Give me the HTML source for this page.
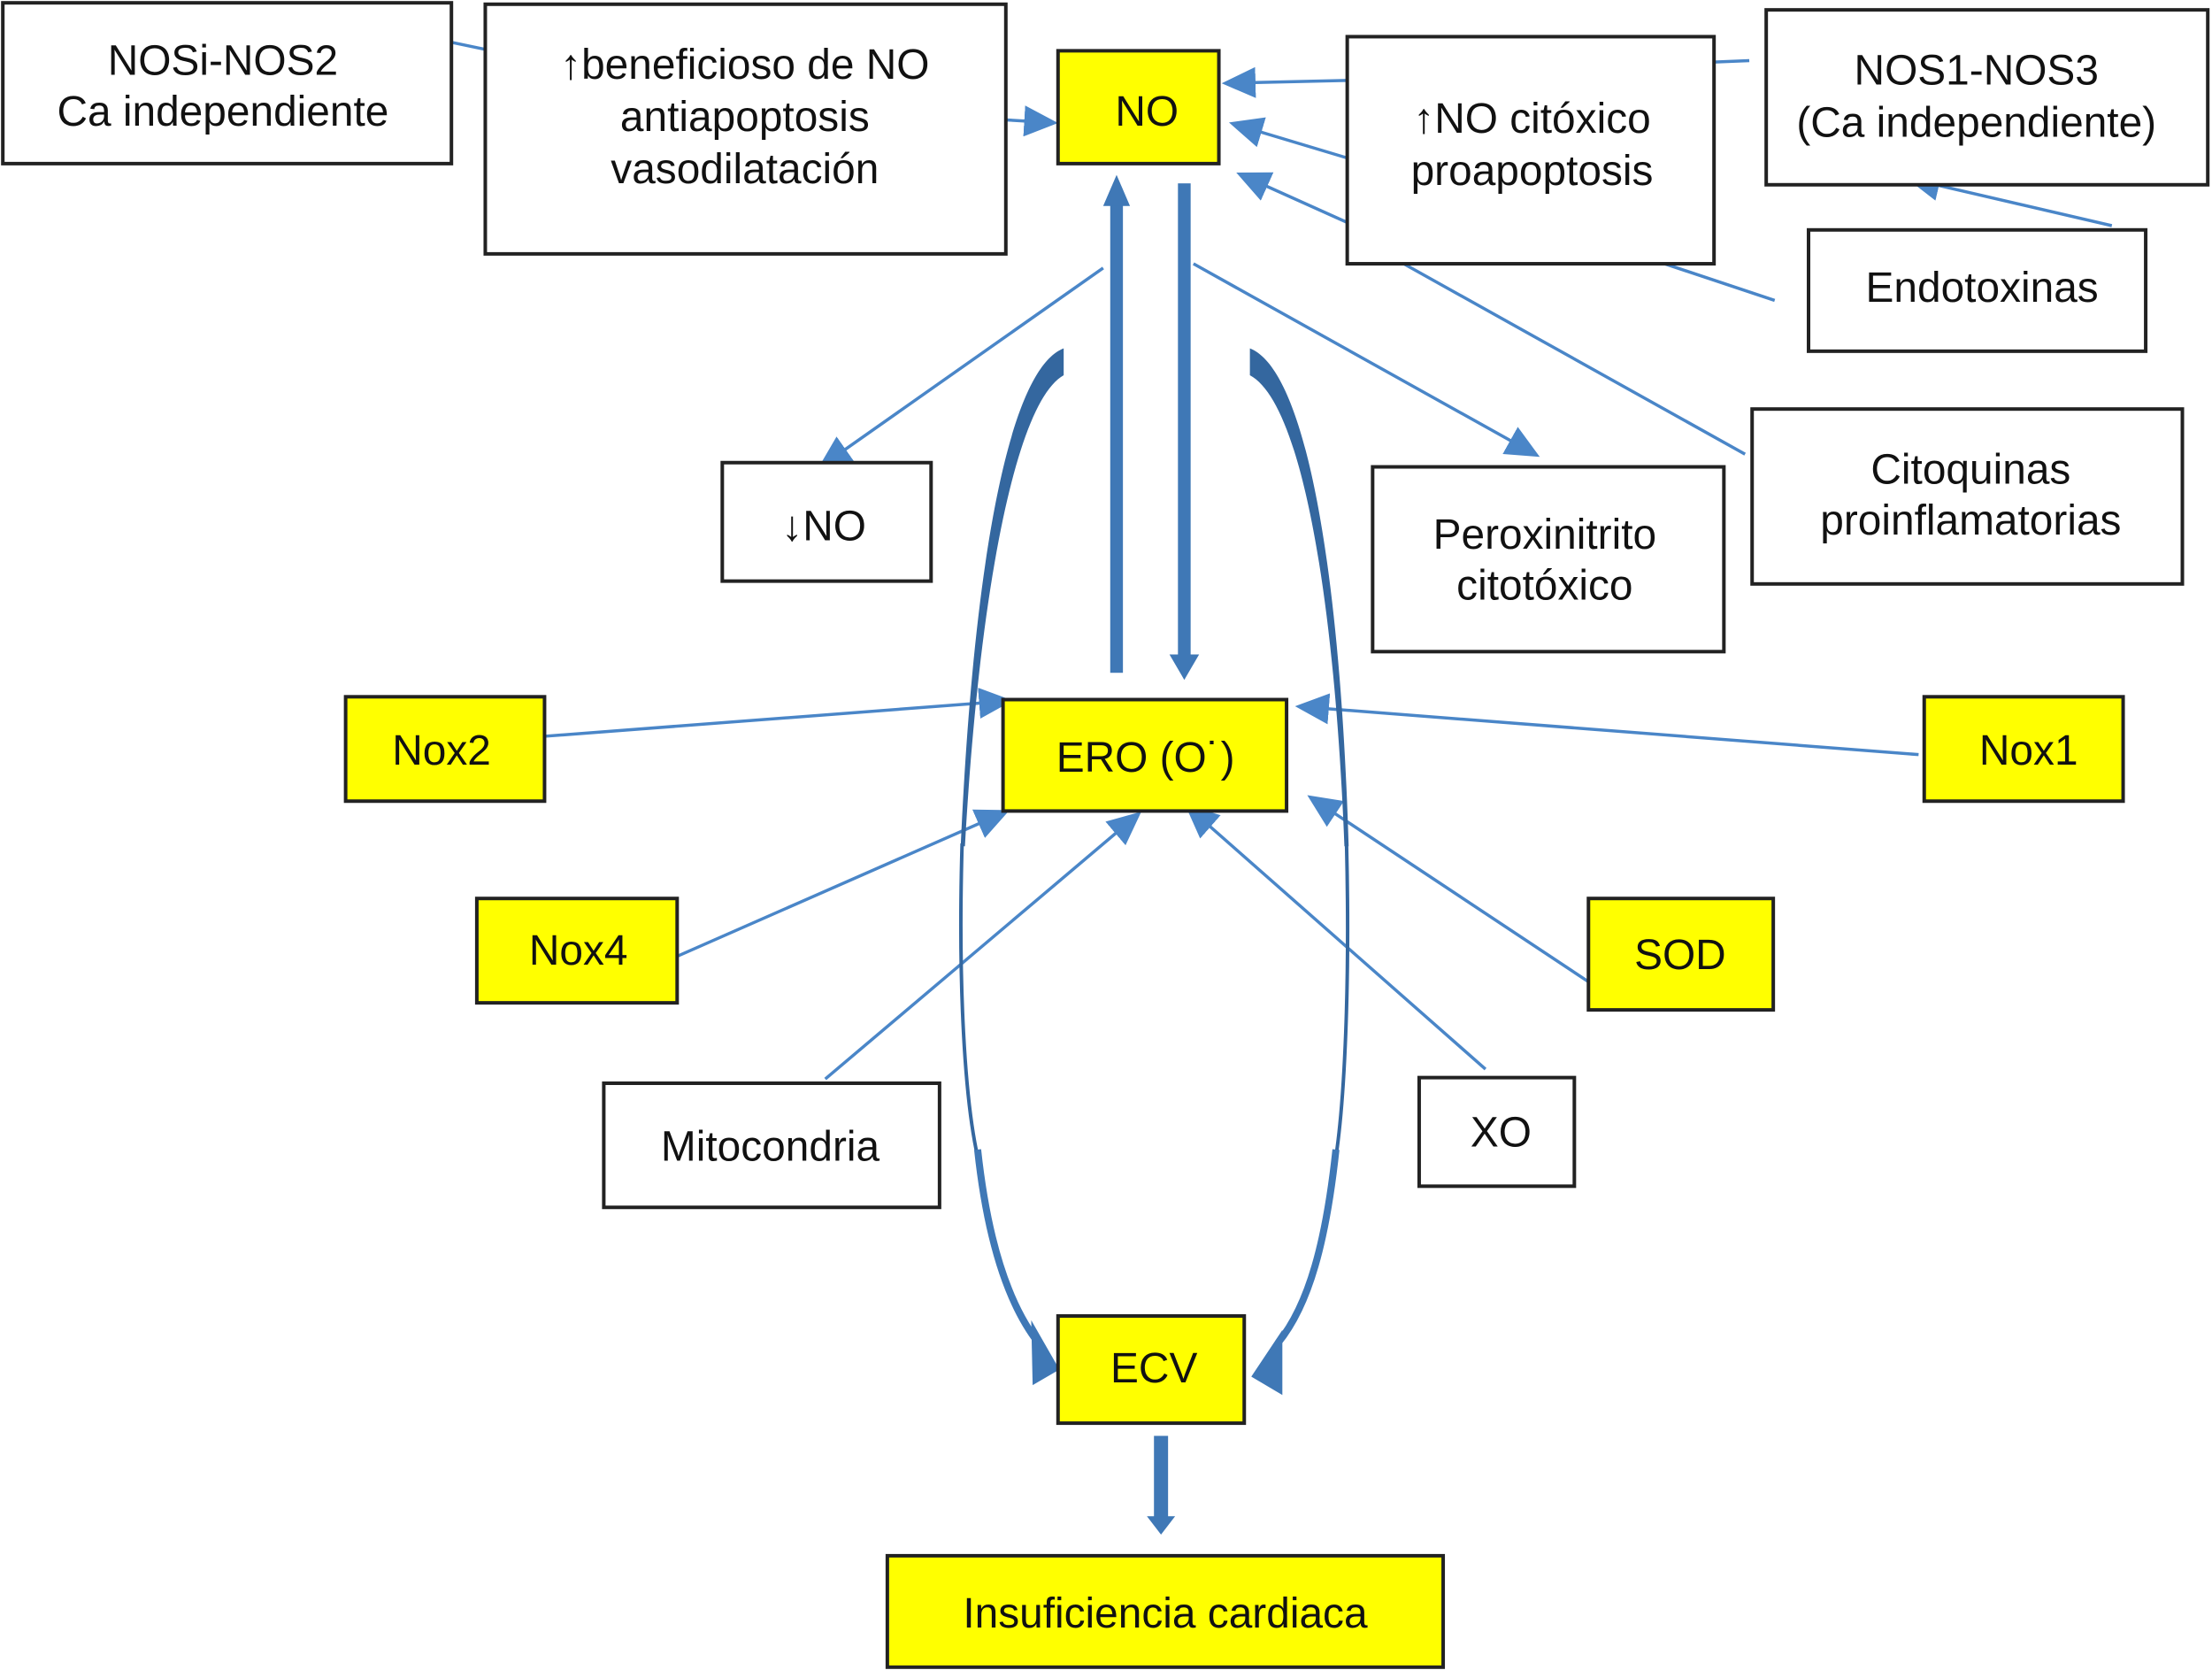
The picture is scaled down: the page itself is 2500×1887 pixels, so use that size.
<!DOCTYPE html>
<html><head><meta charset="utf-8"><style>
html,body{margin:0;padding:0;background:#fff}
svg{display:block}
text{font-family:"Liberation Sans",sans-serif;font-size:30px;fill:#111;text-anchor:middle}
.b{fill:#fff;stroke:#222;stroke-width:2.5}
.y{fill:#ffff00;stroke:#222;stroke-width:2.5}
.l{stroke:#4a86c8;stroke-width:2.2;fill:none}
</style></head><body>
<svg width="2500" height="1887" viewBox="0 0 1568 1184" preserveAspectRatio="none">
<defs>
<marker id="A" markerWidth="24" markerHeight="22" refX="20" refY="11" orient="auto" markerUnits="userSpaceOnUse" viewBox="0 0 24 22">
<path d="M0,0 L24,11 L0,22 z" fill="#4a86c8"/></marker>
</defs>
<g class="l">
<line x1="320" y1="30" x2="344" y2="35"/>
<line x1="713" y1="85" x2="746" y2="87" marker-end="url(#A)"/>
<line x1="1215" y1="44" x2="1240" y2="43"/>
<line x1="955" y1="57" x2="870" y2="59" marker-end="url(#A)"/>
<line x1="955" y1="112" x2="875" y2="88" marker-end="url(#A)"/>
<line x1="1258" y1="213" x2="1180" y2="187"/>
<line x1="1237" y1="322" x2="995" y2="187"/>
<line x1="960" y1="160" x2="880" y2="124" marker-end="url(#A)"/>
<line x1="1497" y1="160" x2="1355" y2="127" marker-end="url(#A)"/>
<line x1="782" y1="190" x2="583" y2="330" marker-end="url(#A)"/>
<line x1="846" y1="187" x2="1088" y2="322" marker-end="url(#A)"/>
<line x1="386" y1="522" x2="714" y2="497" marker-end="url(#A)"/>
<line x1="1360" y1="535" x2="922" y2="501" marker-end="url(#A)"/>
<line x1="480" y1="678" x2="712" y2="576" marker-end="url(#A)"/>
<line x1="585" y1="765" x2="806" y2="578" marker-end="url(#A)"/>
<line x1="1053" y1="758" x2="843" y2="573" marker-end="url(#A)"/>
<line x1="1135" y1="702" x2="930" y2="566" marker-end="url(#A)"/>
</g>
<rect x="787" y="145" width="9" height="332" fill="#3f78b6"/>
<path d="M782,146 L791.5,124 L801,146 z" fill="#3f78b6"/>
<rect x="835" y="130" width="9" height="335" fill="#3f78b6"/>
<path d="M829,464 L839.5,482 L850,464 z" fill="#3f78b6"/>
<!-- left curved -->
<path d="M754,247 C715,262 690,400 681,600 L684,600 C694,420 720,285 754,266 Z" fill="#34679f"/>
<path d="M682,598 C679,700 684,780 693,820" stroke="#34679f" stroke-width="2.5" fill="none"/>
<path d="M693,815 C700,880 715,925 736,952" stroke="#3f78b6" stroke-width="5" fill="none"/>
<path d="M731,936 L751,971 L732,982 z" fill="#3f78b6"/>
<!-- right curved -->
<path d="M886,247 C925,262 950,400 956,600 L953,600 C946,420 922,285 886,266 Z" fill="#34679f"/>
<path d="M954.5,598 C957,700 953,780 947,820" stroke="#34679f" stroke-width="2.5" fill="none"/>
<path d="M947,815 C940,880 928,925 906,952" stroke="#3f78b6" stroke-width="5" fill="none"/>
<path d="M909,943 L887,976 L909,989 z" fill="#3f78b6"/>
<rect x="818" y="1018" width="10" height="58" fill="#3f78b6"/>
<path d="M813,1075 L823,1088 L833,1075 z" fill="#3f78b6"/>
<rect class="b" x="2" y="2" width="318" height="114"/>
<text x="158" y="53">NOSi-NOS2</text><text x="158" y="89">Ca independiente</text>
<rect class="b" x="344" y="3" width="369" height="177"/>
<text x="528" y="56">↑beneficioso de NO</text><text x="528" y="93">antiapoptosis</text><text x="528" y="130">vasodilatación</text>
<rect class="y" x="750" y="36" width="114" height="80"/><text x="813" y="89">NO</text>
<rect class="b" x="955" y="26" width="260" height="161"/>
<text x="1086" y="94">↑NO citóxico</text><text x="1086" y="131">proapoptosis</text>
<rect class="b" x="1252" y="7" width="313" height="124"/>
<text x="1401" y="60">NOS1-NOS3</text><text x="1401" y="97">(Ca independiente)</text>
<rect class="b" x="1282" y="163" width="239" height="86"/><text x="1405" y="214">Endotoxinas</text>
<rect class="b" x="512" y="328" width="148" height="84"/><text x="584" y="383">↓NO</text>
<rect class="b" x="973" y="331" width="249" height="131"/>
<text x="1095" y="389">Peroxinitrito</text><text x="1095" y="425">citotóxico</text>
<rect class="b" x="1242" y="290" width="305" height="124"/>
<text x="1397" y="343">Citoquinas</text><text x="1397" y="379">proinflamatorias</text>
<rect class="y" x="245" y="494" width="141" height="74"/><text x="313" y="542">Nox2</text>
<rect class="y" x="711" y="496" width="201" height="79"/><text x="812" y="547">ERO (O˙)</text>
<rect class="y" x="1364" y="494" width="141" height="74"/><text x="1438" y="542">Nox1</text>
<rect class="y" x="338" y="637" width="142" height="74"/><text x="410" y="684">Nox4</text>
<rect class="y" x="1126" y="637" width="131" height="79"/><text x="1191" y="687">SOD</text>
<rect class="b" x="428" y="768" width="238" height="88"/><text x="546" y="823">Mitocondria</text>
<rect class="b" x="1006" y="764" width="110" height="77"/><text x="1064" y="813">XO</text>
<rect class="y" x="750" y="933" width="132" height="76"/><text x="818" y="980">ECV</text>
<rect class="y" x="629" y="1103" width="394" height="79"/><text x="826" y="1154">Insuficiencia cardiaca</text>
</svg>
</body></html>
